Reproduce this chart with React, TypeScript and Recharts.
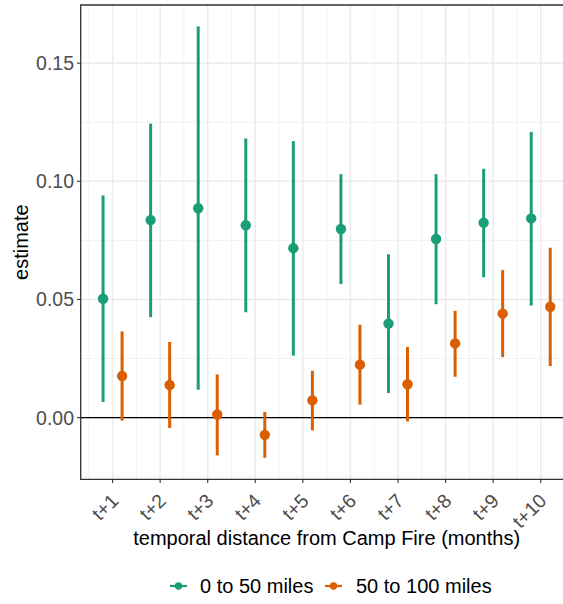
import React from 'react';
import {
  ScatterChart,
  Scatter,
  XAxis,
  YAxis,
  CartesianGrid,
  ErrorBar,
  ReferenceLine,
  ReferenceArea,
  Label,
} from 'recharts';

// tick labels for each month after the fire
const months = ['t+1', 't+2', 't+3', 't+4', 't+5', 't+6', 't+7', 't+8', 't+9', 't+10'];

// 0 to 50 miles
const nearEst = [0.0503, 0.0836, 0.0886, 0.0814, 0.0717, 0.0798, 0.0398, 0.0756, 0.0825, 0.0843];
const nearLow = [0.0066, 0.0425, 0.0118, 0.0446, 0.0262, 0.0565, 0.0104, 0.048, 0.0594, 0.0474];
const nearHigh = [0.094, 0.1244, 0.1655, 0.1181, 0.117, 0.103, 0.0691, 0.103, 0.1053, 0.1209];

// 50 to 100 miles
const farEst = [0.0176, 0.0138, 0.0013, -0.0073, 0.0073, 0.0224, 0.0141, 0.0314, 0.044, 0.0469];
const farLow = [-0.0013, -0.0044, -0.016, -0.017, -0.0054, 0.0055, -0.0016, 0.0173, 0.0256, 0.0218];
const farHigh = [0.0365, 0.032, 0.0183, 0.0024, 0.0198, 0.0393, 0.0299, 0.0452, 0.0624, 0.0719];

const yTicks = [0, 0.05, 0.1, 0.15];
const yMinor = [-0.025, 0.025, 0.075, 0.125];
const xTicks = [1, 2, 3, 4, 5, 6, 7, 8, 9, 10];
const xMinor = [0.5, 1.5, 2.5, 3.5, 4.5, 5.5, 6.5, 7.5, 8.5, 9.5, 10.5];

const GREEN = '#1B9E77';
const ORANGE = '#D95F02';
const FONT = '"Liberation Sans", Arial, Helvetica, sans-serif';

const X_DOMAIN: [number, number] = [0.33, 10.67];
const Y_DOMAIN: [number, number] = [-0.0261, 0.1746];

const build = (est: number[], lo: number[], hi: number[], dodge: number) =>
  est.map((v, i) => ({
    x: i + 1 + dodge,
    y: v,
    err: [v - lo[i], hi[i] - v],
  }));

const nearData = build(nearEst, nearLow, nearHigh, -0.2);
const farData = build(farEst, farLow, farHigh, 0.2);

const dot = (color: string) => (props: any) =>
  <circle cx={props.cx} cy={props.cy} r={5.2} fill={color} />;

const XTick = (props: any) => {
  const { x, y, payload } = props;
  return (
    <g transform={`translate(${x + 7},${y + 17})`}>
      <text
        x={0}
        y={0}
        transform="rotate(-45)"
        textAnchor="end"
        fontSize={19.5}
        fill="#4D4D4D"
        fontFamily={FONT}
      >
        {months[payload.value - 1]}
      </text>
    </g>
  );
};

const legendItems = [
  { name: '0 to 50 miles', color: GREEN, left: 170, gap: 13 },
  { name: '50 to 100 miles', color: ORANGE, left: 325, gap: 14 },
];

export default function App() {
  return (
    <div
      style={{
        position: 'absolute',
        left: 0,
        top: 0,
        width: 563,
        height: 604,
        overflow: 'hidden',
        background: '#fff',
        fontFamily: FONT,
      }}
    >
      <ScatterChart
        width={580}
        height={604}
        margin={{ top: 5, right: 7.4, left: 0, bottom: 0 }}
      >
        <CartesianGrid
          stroke="#F2F2F2"
          strokeWidth={1}
          horizontalValues={yMinor}
          verticalValues={xMinor}
        />
        <CartesianGrid
          stroke="#EBEBEB"
          strokeWidth={1.5}
          horizontalValues={yTicks}
          verticalValues={xTicks}
        />
        <XAxis
          type="number"
          dataKey="x"
          domain={X_DOMAIN}
          ticks={xTicks}
          allowDataOverflow
          height={124.7}
          axisLine={false}
          tickLine={{ stroke: '#333333', strokeWidth: 1.1 }}
          tickSize={3.7}
          tick={<XTick />}
        >
          <Label
            content={(p: any) => (
              <text
                x={p.viewBox.x + p.viewBox.width / 2}
                y={p.viewBox.y + 66}
                textAnchor="middle"
                fontSize={20}
                fill="#000"
                fontFamily={FONT}
              >
                temporal distance from Camp Fire (months)
              </text>
            )}
          />
        </XAxis>
        <YAxis
          type="number"
          dataKey="y"
          domain={Y_DOMAIN}
          ticks={yTicks}
          allowDataOverflow
          width={80.7}
          axisLine={false}
          tickLine={{ stroke: '#333333', strokeWidth: 1.1 }}
          tickSize={3.7}
          tickMargin={3}
          tickFormatter={(v: number) => v.toFixed(2)}
          tick={{ fontSize: 19.5, fill: '#4D4D4D', fontFamily: FONT }}
        >
          <Label
            content={(p: any) => {
              const cx = 21;
              const cy = p.viewBox.y + p.viewBox.height / 2;
              return (
                <text
                  x={cx}
                  y={cy}
                  transform={`rotate(-90, ${cx}, ${cy})`}
                  textAnchor="middle"
                  dominantBaseline="central"
                  fontSize={20}
                  fill="#000"
                  fontFamily={FONT}
                >
                  estimate
                </text>
              );
            }}
          />
        </YAxis>
        <ReferenceLine y={0} stroke="#000" strokeWidth={1.2} />
        <Scatter
          name="0 to 50 miles"
          data={nearData}
          fill={GREEN}
          shape={dot(GREEN)}
          isAnimationActive={false}
        >
          <ErrorBar dataKey="err" direction="y" width={0} stroke={GREEN} strokeWidth={3} />
        </Scatter>
        <Scatter
          name="50 to 100 miles"
          data={farData}
          fill={ORANGE}
          shape={dot(ORANGE)}
          isAnimationActive={false}
        >
          <ErrorBar dataKey="err" direction="y" width={0} stroke={ORANGE} strokeWidth={3} />
        </Scatter>
        <ReferenceArea
          x1={X_DOMAIN[0]}
          x2={X_DOMAIN[1]}
          y1={Y_DOMAIN[0]}
          y2={Y_DOMAIN[1]}
          fill="none"
          stroke="#333333"
          strokeWidth={1.3}
          ifOverflow="visible"
        />
      </ScatterChart>
      <div style={{ position: 'absolute', top: 574, left: 0, width: 563, fontSize: 20, color: '#000', lineHeight: '24px' }}>
        {legendItems.map((item) => (
          <div
            key={item.name}
            style={{ position: 'absolute', left: item.left, top: 0, display: 'flex', alignItems: 'center' }}
          >
            <svg width={17} height={24}>
              <line x1={0} x2={17} y1={12} y2={12} stroke={item.color} strokeWidth={2.2} />
              <circle cx={8.5} cy={12} r={3.7} fill={item.color} />
            </svg>
            <span style={{ marginLeft: item.gap, whiteSpace: 'nowrap' }}>{item.name}</span>
          </div>
        ))}
      </div>
    </div>
  );
}
